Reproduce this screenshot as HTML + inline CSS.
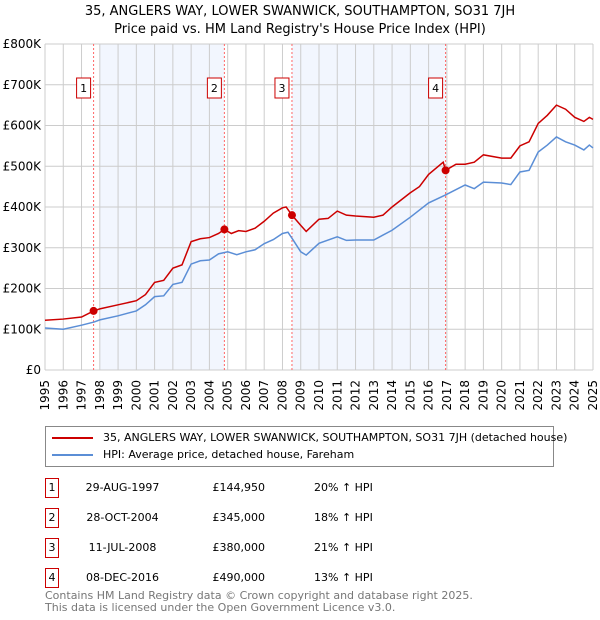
<!DOCTYPE html>
<html><head><meta charset="utf-8"><style>
body{margin:0;background:#fff;font-family:"DejaVu Sans","Liberation Sans",sans-serif;}
#wrap{position:relative;width:600px;height:620px;overflow:hidden}
.t{position:absolute;font-size:12px;color:#000;white-space:nowrap}
</style></head><body><div id="wrap">
<div class="t" style="left:0;width:600px;text-align:center;top:3px;font-size:13px;line-height:18px">35, ANGLERS WAY, LOWER SWANWICK, SOUTHAMPTON, SO31 7JH<br>Price paid vs. HM Land Registry's House Price Index (HPI)</div>
<svg id="chart" width="600" height="420" style="position:absolute;left:0;top:0"></svg>
<div style="position:absolute;left:45px;top:426px;width:509px;height:41px;border:1px solid #888;box-sizing:border-box">
<div style="position:absolute;left:6px;top:4px;font-size:11px;white-space:nowrap"><span style="display:inline-block;width:41px;height:2px;background:#c00;vertical-align:middle;margin-right:10px"></span>35, ANGLERS WAY, LOWER SWANWICK, SOUTHAMPTON, SO31 7JH (detached house)</div>
<div style="position:absolute;left:6px;top:21px;font-size:11px;white-space:nowrap"><span style="display:inline-block;width:41px;height:2px;background:#5b8ed6;vertical-align:middle;margin-right:10px"></span>HPI: Average price, detached house, Fareham</div>
</div>
<div id="table"></div>
<div class="t" style="left:45px;top:590px;font-size:11px;color:#777;line-height:12px">Contains HM Land Registry data © Crown copyright and database right 2025.<br>This data is licensed under the Open Government Licence v3.0.</div>
</div>
<script>
const hpiYears=[1995,1996,1997,1997.7,1998,1999,2000,2000.5,2001,2001.5,2002,2002.5,2003,2003.5,2004,2004.5,2005,2005.5,2006,2006.5,2007,2007.5,2008,2008.3,2008.6,2009,2009.3,2010,2011,2011.5,2012,2013,2014,2015,2016,2016.9,2018,2018.5,2019,2020,2020.5,2021,2021.5,2022,2022.5,2023,2023.5,2024,2024.5,2024.8,2025];
const hpiValues=[103,100,110,118,123,133,145,160,180,182,210,215,260,268,270,285,290,283,290,295,310,320,335,338,318,290,282,311,327,318,319,319,343,375,410,429,454,445,461,459,455,486,490,535,552,572,560,552,540,552,545];
const propYears=[1995,1996,1997,1997.66,1998,1999,2000,2000.5,2001,2001.5,2002,2002.5,2003,2003.5,2004,2004.5,2004.82,2005.2,2005.6,2006,2006.5,2007,2007.5,2008,2008.2,2008.52,2009,2009.3,2010,2010.5,2011,2011.5,2012,2013,2013.5,2014,2015,2015.5,2016,2016.8,2016.93,2017.5,2018,2018.5,2019,2020,2020.5,2021,2021.5,2022,2022.5,2023,2023.5,2024,2024.5,2024.8,2025];
const propValues=[122,125,130,145,150,160,170,185,215,220,250,258,315,322,325,335,345,335,342,340,348,365,385,398,400,380,355,340,370,372,390,380,378,375,380,400,435,450,480,510,490,505,505,510,528,520,520,550,560,605,625,650,640,620,610,620,615];
const saleLabels=["1","2","3","4"];
const saleYears=[1997.66,2004.82,2008.52,2016.93];
const saleValues=[144.95,345,380,490];
const saleDates=["29-AUG-1997","28-OCT-2004","11-JUL-2008","08-DEC-2016"];
const salePrices=["£144,950","£345,000","£380,000","£490,000"];
const saleHpi=["20% ↑ HPI","18% ↑ HPI","21% ↑ HPI","13% ↑ HPI"];
const yTicks=[0,100,200,300,400,500,600,700,800];
const yTickLabels=["£0","£100K","£200K","£300K","£400K","£500K","£600K","£700K","£800K"];
const X0=45,X1=593,Y0=370,Y1=44;
const xs=y=>X0+(y-1995)/30*(X1-X0);
const ys=v=>Y0-v/800*(Y0-Y1);
const svg=document.getElementById('chart');const NS='http://www.w3.org/2000/svg';
function mk(t,a){const e=document.createElementNS(NS,t);for(const k in a)e.setAttribute(k,a[k]);svg.appendChild(e);return e;}
let e;
e=mk('rect',{x:xs(1998),y:Y1,width:xs(saleYears[1])-xs(1998),height:Y0-Y1,fill:'#f2f6fe'});


e=mk('rect',{x:xs(saleYears[2]),y:Y1,width:xs(saleYears[3])-xs(saleYears[2]),height:Y0-Y1,fill:'#f2f6fe'});


for(let y=1995;y<=2025;y++){e=mk('line',{x1:xs(y),x2:xs(y),y1:Y1,y2:Y0,stroke:'#ccc','stroke-width':1});


const t=mk('text',{x:0,y:0,'font-size':12,transform:`translate(${xs(y)+4},${Y0+10}) rotate(-90)`,'text-anchor':'end'});t.textContent=y;

}
yTicks.forEach((v,i)=>{e=mk('line',{x1:X0,x2:X1,y1:ys(v),y2:ys(v),stroke:'#ccc','stroke-width':1});


const t=mk('text',{x:X0-4,y:ys(v)+4,'font-size':12,'text-anchor':'end'});t.textContent=yTickLabels[i];

});
saleYears.forEach((y,i)=>{e=mk('line',{x1:xs(y),x2:xs(y),y1:Y1,y2:Y0,stroke:'#f66','stroke-width':1,'stroke-dasharray':'2,2'});


e=mk('rect',{x:xs(y)-17,y:78,width:14,height:20,fill:'#fff',stroke:'#c00'});


const t=mk('text',{x:xs(y)-10,y:92,'font-size':11,'text-anchor':'middle'});t.textContent=saleLabels[i];

});
e=mk('polyline',{points:hpiYears.map((y,i)=>xs(y)+','+ys(hpiValues[i])).join(' '),fill:'none',stroke:'#5b8ed6','stroke-width':1.5});


e=mk('polyline',{points:propYears.map((y,i)=>xs(y)+','+ys(propValues[i])).join(' '),fill:'none',stroke:'#c00','stroke-width':1.5});


saleYears.forEach((y,i)=>{e=mk('circle',{cx:xs(y),cy:ys(saleValues[i]),r:4,fill:'#c00'});

});
const tb=document.getElementById('table');
const rowsY=[478,508,538,568];
saleLabels.forEach((l,i)=>{const r=document.createElement('div');


r.style.cssText=`position:absolute;left:0;top:${rowsY[i]}px;width:600px;height:20px;font-size:11px`;
r.innerHTML=`<div style="position:absolute;left:45px;top:0;width:12px;height:18px;border:1px solid #c00;text-align:center;line-height:18px">${l}</div><div style="position:absolute;left:70px;width:105px;top:3px;text-align:center">${saleDates[i]}</div><div style="position:absolute;left:200px;width:65px;top:3px;text-align:right">${salePrices[i]}</div><div style="position:absolute;left:314px;top:3px">${saleHpi[i]}</div>`;
tb.appendChild(r);});
</script></body></html>
